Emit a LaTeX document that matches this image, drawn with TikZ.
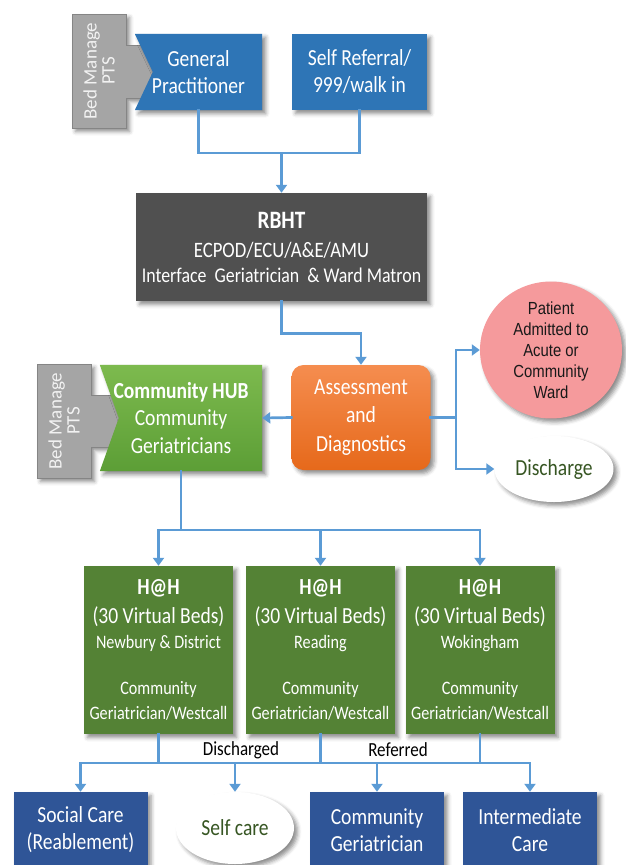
\documentclass[tikz,border=0pt]{standalone}
\usepackage{fontspec}
\setmainfont{Carlito}[FakeStretch=0.85]
\newfontfamily\bmfont{Carlito}
\newfontfamily\pfont{Liberation Sans}[FakeStretch=0.85]
\usetikzlibrary{arrows.meta,shapes.geometric,shadows.blur,backgrounds,calc}
\definecolor{cblue}{HTML}{2E75B6}
\definecolor{cdark}{HTML}{505050}
\definecolor{cgray}{HTML}{A5A5A5}
\definecolor{cgrayd}{HTML}{858585}
\definecolor{cbmtext}{HTML}{F2F2F2}
\definecolor{corgT}{HTML}{F58D4F}
\definecolor{corgB}{HTML}{E6691B}
\definecolor{cgrnT}{HTML}{7DBA4E}
\definecolor{cgrnB}{HTML}{5C9E36}
\definecolor{chah}{HTML}{548235}
\definecolor{cnavy}{HTML}{2F5597}
\definecolor{cpink}{HTML}{F59A9C}
\definecolor{cline}{HTML}{5B9BD5}
\definecolor{ctxtg}{HTML}{375623}
\newcommand{\hahtxt}[1]{{\bfseries\fontsize{23}{24.5}\selectfont H@H}\\[4.5pt]{\fontsize{23}{24.5}\selectfont (30 Virtual Beds)}\\[0.5pt]#1\\[21.5pt]Community\\Geriatrician/Westcall}
\tikzset{
 sh/.style={blur shadow={shadow xshift=3.5pt,shadow yshift=-3.5pt,shadow blur radius=4pt,shadow opacity=45}},
 cbox/.style={rectangle, inner sep=0pt, align=center, text=white, sh},
 txt/.style={inner sep=0pt, align=center, text=white},
 bmtxt/.style={inner sep=0pt, align=center, text=cbmtext, rotate=90, font=\bmfont\fontsize{19}{18}\selectfont},
 grayshape/.style={fill=cgray, draw=cgrayd, line width=0.6pt, sh},
 conn/.style={draw=cline, line width=2.7pt, line cap=rect},
 arr/.style={conn, -{Triangle[width=11pt,length=8pt]}},
 f23/.style={font=\fontsize{23}{27}\selectfont},
 hah/.style={cbox, fill=chah, minimum width=149, minimum height=168, font=\fontsize{19}{24.5}\selectfont},
 bot/.style={cbox, fill=cnavy, minimum width=134, minimum height=76, f23},
 lbl/.style={inner sep=0pt, text=black, font=\fontsize{20}{24}\selectfont},
 oval/.style={ellipse, inner sep=0pt, align=center, sh},
}
\begin{document}
\begin{tikzpicture}[x=1pt,y=-1pt]
\useasboundingbox (0,0) rectangle (625,865);
% ---------- nodes ----------
\node[bmtxt] (bm1) at (99,71) {Bed Manage\\PTS};
\node[bmtxt] (bm2) at (64,421) {Bed Manage\\PTS};
\node[txt, f23, minimum width=127, minimum height=76] (gp) at (198.5,72) {General\\Practitioner};
\node[cbox, fill=cblue, f23, minimum width=135, minimum height=76] (sr) at (359.5,72) {Self Referral/\\999/walk in};
\node[cbox, fill=cdark, minimum width=291, minimum height=108, font=\fontsize{21}{25}\selectfont] (rbht) at (281.5,247)
  {{\bfseries\fontsize{25}{25}\selectfont RBHT}\\[4pt]{\fontsize{22}{25}\selectfont ECPOD/ECU/A\&E/AMU}\\Interface\ \ Geriatrician\ \ \&\ Ward Matron};
\node[cbox, rounded corners=12pt, top color=corgT, bottom color=corgB, minimum width=139, minimum height=105, font=\fontsize{23}{28.5}\selectfont] (ad) at (361,417.5) {Assessment\\and\\Diagnostics};
\node[txt, minimum width=162, minimum height=106, font=\fontsize{23}{27.5}\selectfont] (hub) at (181,418) {\textbf{Community HUB}\\Community\\Geriatricians};
\node[oval, fill=cpink, minimum width=142, minimum height=134, text=black!90, font=\pfont\fontsize{17.5}{21}\selectfont] (pat) at (551,350) {Patient\\Admitted to\\Acute or\\Community\\Ward};
\node[oval, fill=white, minimum width=119, minimum height=66, text=ctxtg, f23] (disc) at (554,469) {Discharge};
\node[hah] (hah1) at (158.5,650) {\hahtxt{Newbury \& District}};
\node[hah] (hah2) at (320.5,650) {\hahtxt{Reading}};
\node[hah] (hah3) at (480,650) {\hahtxt{Wokingham}};
\node[lbl] (lbd) at (241,750) {Discharged};
\node[lbl] (lbr) at (398,750) {Referred};
\node[bot] (soc) at (80.5,830) {Social Care\\(Reablement)};
\node[oval, fill=white, minimum width=118, minimum height=72, text=ctxtg, f23] (self) at (235,828) {Self care};
\node[bot] (cg) at (377,830) {Community\\Geriatrician};
\node[bot] (int) at (530,830) {Intermediate\\Care};
% ---------- shaped fills behind the text ----------
\begin{scope}[on background layer]
\path[grayshape] (72,14) -- (126,14) -- (126,45) -- (165,45) -- (165,98) -- (126,98) -- (126,128) -- (72,128) -- cycle;
\path[sh, fill=cblue] (gp.north west) -- (gp.north east) -- (gp.south east) -- (gp.south west) -- ($(gp.west)+(18,0)$) -- cycle;
\path[grayshape] (37,364) -- (91,364) -- (91,395) -- (135,395) -- (135,447) -- (91,447) -- (91,478) -- (37,478) -- cycle;
\path[sh, top color=cgrnT, bottom color=cgrnB] (hub.north west) -- (hub.north east) -- (hub.south east) -- (hub.south west) -- ($(hub.west)+(19,0)$) -- cycle;
\end{scope}
% ---------- connectors ----------
\coordinate (j1) at (281.5,153);
\draw[conn] (gp.south) -- (gp.south |- j1) -- (sr.south |- j1) -- (sr.south);
\draw[arr] (j1) -- (rbht.north);
\draw[arr] (rbht.south) -- ++(0,32) -| (ad.north);
\draw[arr] (ad.west) -- (hub.east);
\coordinate (j2) at (456,417.5);
\draw[conn] (ad.east) -- (j2);
\draw[arr] (j2) |- (pat.west);
\draw[arr] (j2) |- (disc.west);
\coordinate (j3) at (181,530);
\draw[conn] (hub.south) -- (j3);
\draw[conn] (hah1.north |- j3) -- (hah3.north |- j3);
\foreach \n in {hah1,hah2,hah3} \draw[arr] (\n.north |- j3) -- (\n.north);
\coordinate (j4) at (300,763);
\foreach \n in {hah1,hah2,hah3} \draw[conn] (\n.south) -- (\n.south |- j4);
\draw[conn] (soc.north |- j4) -- (int.north |- j4);
\foreach \n in {soc,self,cg,int} \draw[arr] (\n.north |- j4) -- (\n.north);
\end{tikzpicture}
\end{document}
